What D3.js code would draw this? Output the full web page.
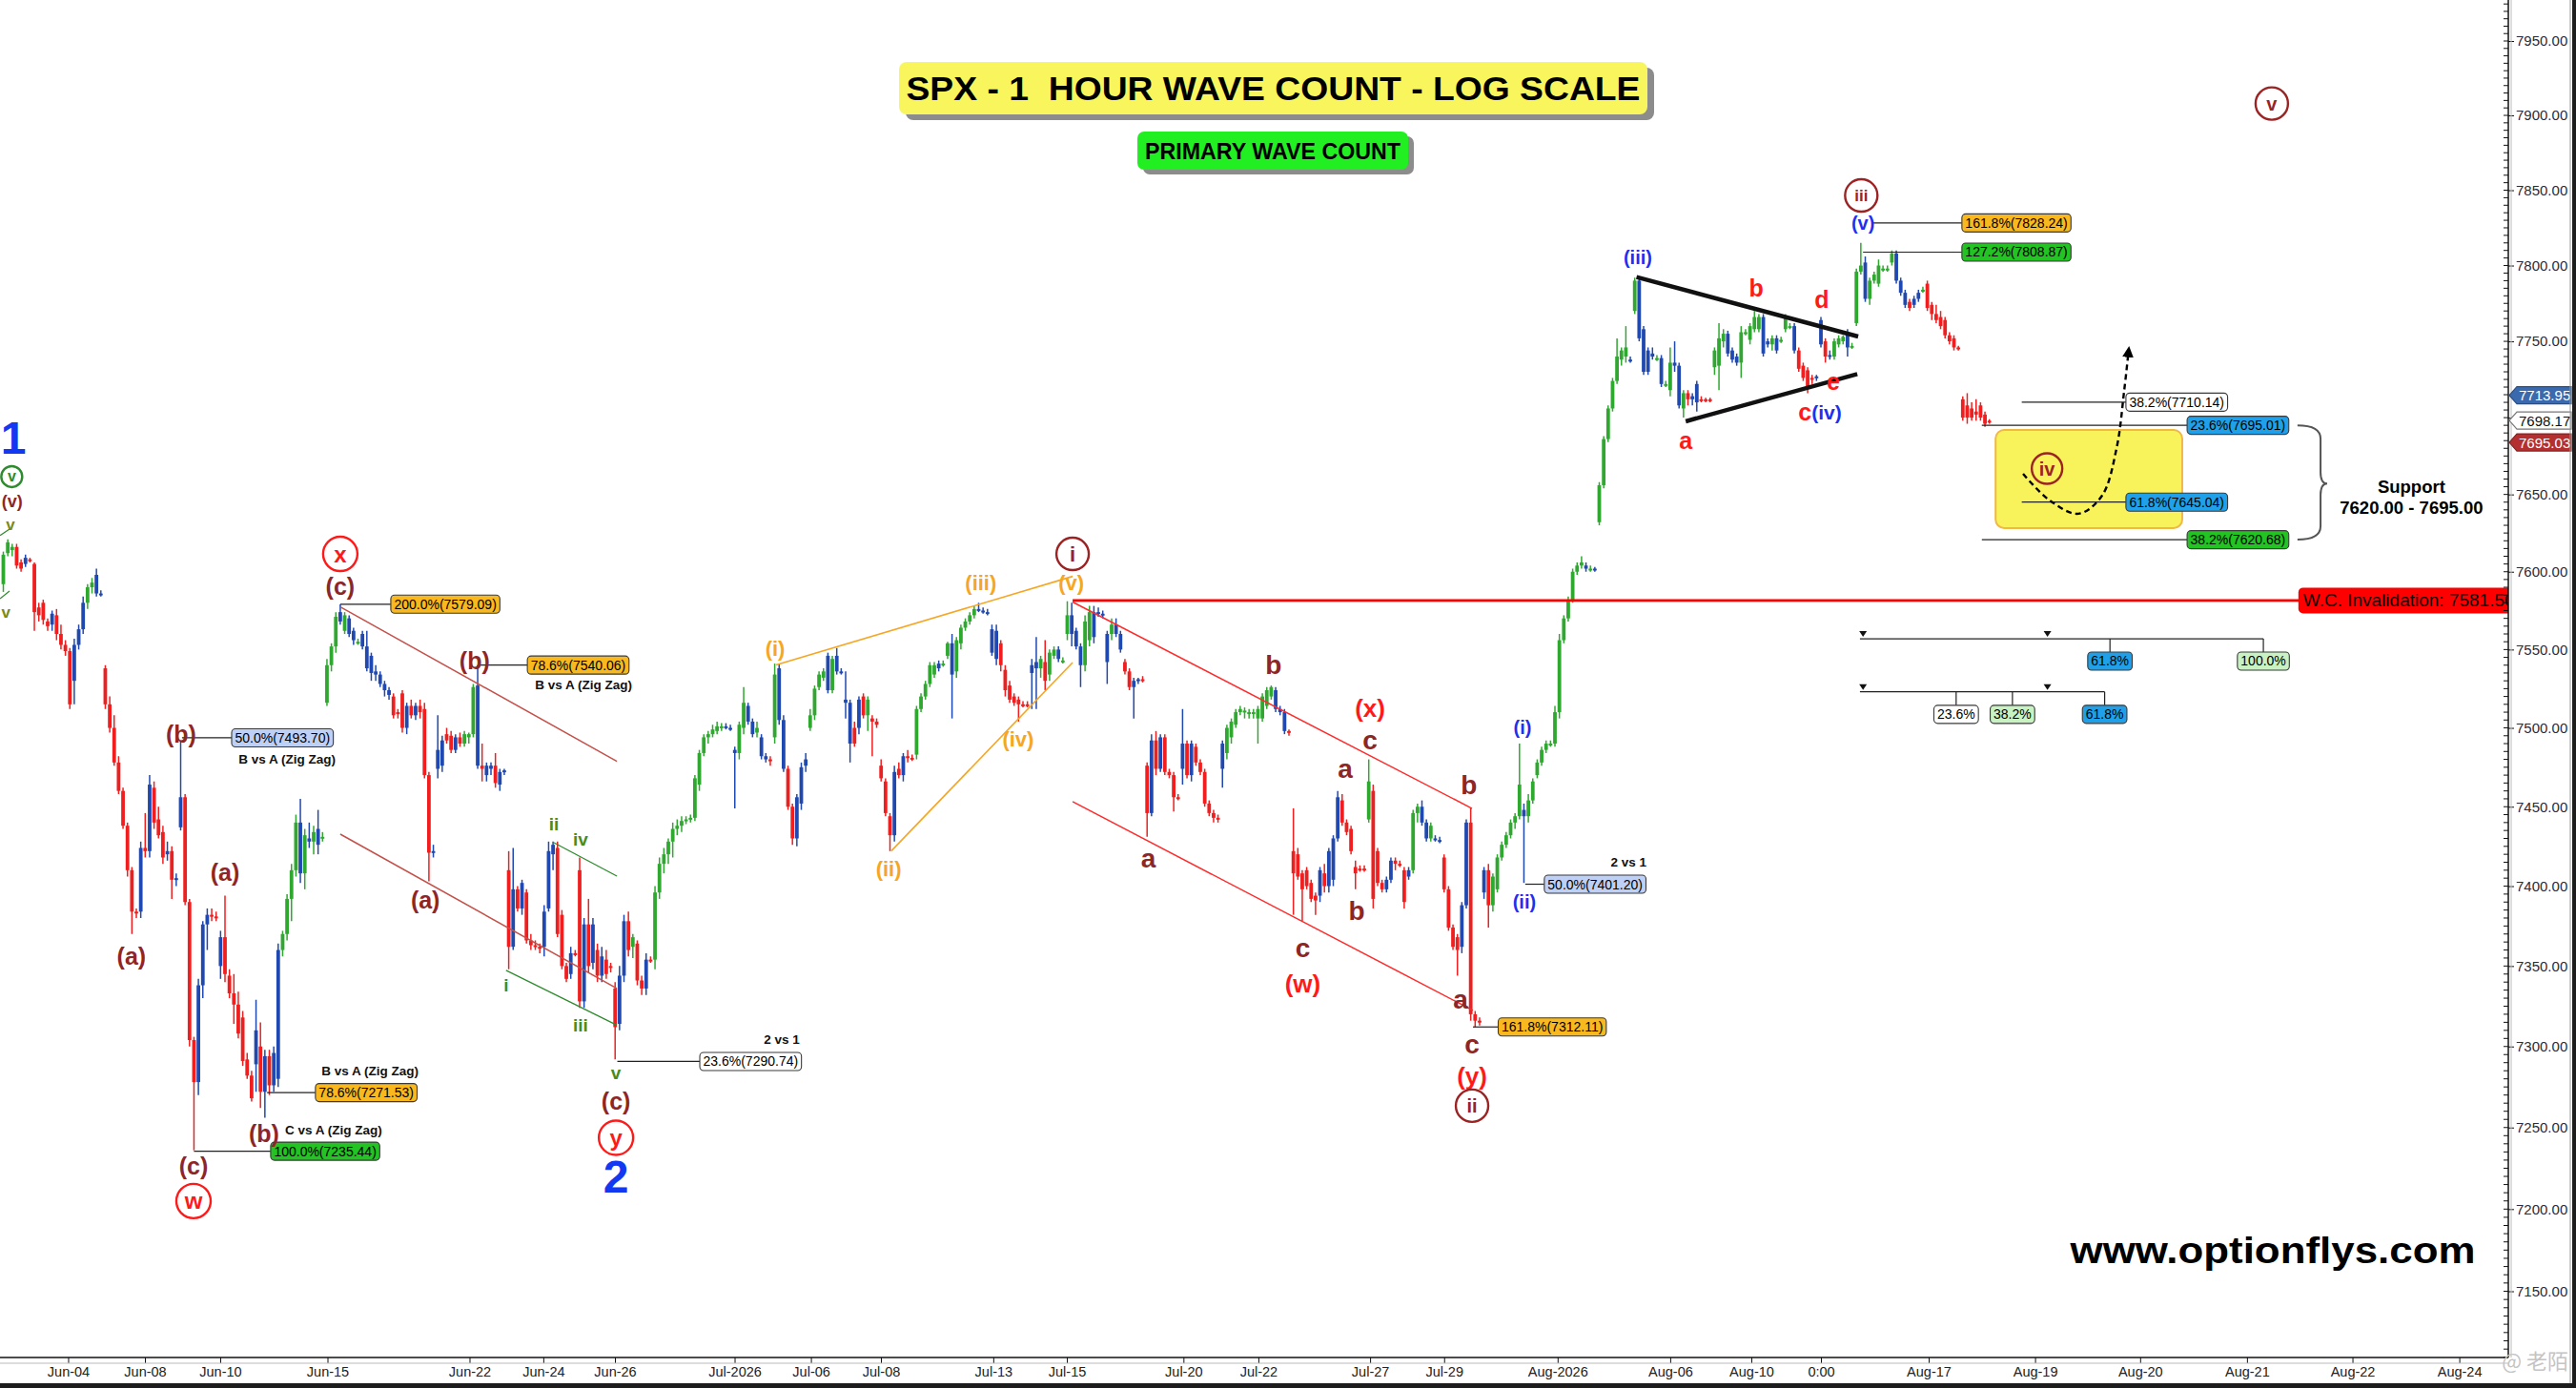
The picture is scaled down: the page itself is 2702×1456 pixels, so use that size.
<!DOCTYPE html>
<html><head><meta charset="utf-8">
<script src="https://cdn.jsdelivr.net/npm/d3@7/dist/d3.min.js"></script>
<style>body{margin:0;background:#fff;} svg{display:block;font-family:"Liberation Sans",Arial,sans-serif;}</style>
</head><body>
<svg id="chart" width="2702" height="1456"></svg>
<script>
// ---------------- DATA ----------------
// hourly candles [open, high, low, close]
const candles = [
[7592,7613,7587,7611],[7612,7621,7610,7619],[7614,7618,7610,7616],[7616,7618,7602,7604],[7606,7608,7600,7602],
[7605,7611,7603,7609],[7608,7609,7606,7607],[7605,7606,7562,7574],[7577,7580,7568,7572],[7580,7582,7566,7569],
[7568,7570,7562,7565],[7566,7575,7562,7573],[7572,7576,7556,7560],[7560,7566,7550,7553],[7553,7556,7546,7549],
[7549,7551,7512,7515],[7530,7557,7515,7553],[7553,7566,7550,7563],[7563,7584,7560,7580],[7580,7592,7576,7590],
[7590,7596,7586,7593],[7598,7602,7584,7586],[7586,7588,7584,7585],[7538,7540,7512,7515],[7515,7520,7497,7500],
[7500,7508,7476,7478],[7478,7482,7458,7460],[7460,7462,7436,7438],[7438,7440,7406,7410],[7410,7412,7370,7384],
[7384,7386,7380,7383],[7384,7428,7380,7424],[7424,7446,7418,7422],[7422,7470,7418,7464],[7462,7466,7436,7440],
[7442,7450,7430,7432],[7434,7438,7414,7418],[7420,7428,7416,7422],[7422,7425,7392,7404],[7404,7408,7400,7405],
[7437,7492,7435,7456],[7456,7458,7388,7390],[7390,7392,7300,7304],[7304,7306,7236,7278],[7278,7342,7270,7338],
[7338,7378,7330,7376],[7376,7386,7360,7382],[7382,7386,7378,7381],[7381,7384,7378,7380],[7350,7372,7342,7368],
[7368,7394,7340,7345],[7344,7348,7330,7333],[7333,7345,7314,7326],[7326,7334,7305,7308],[7318,7322,7288,7291],
[7292,7296,7280,7282],[7282,7285,7266,7268],[7289,7329,7272,7310],[7300,7315,7262,7272],[7272,7298,7256,7294],
[7294,7298,7270,7276],[7276,7300,7272,7296],[7280,7364,7275,7360],[7360,7372,7356,7370],[7370,7395,7366,7392],
[7392,7414,7378,7410],[7410,7445,7406,7440],[7440,7455,7402,7408],[7408,7436,7398,7432],[7430,7440,7424,7428],
[7428,7438,7420,7434],[7436,7448,7420,7426],[7430,7434,7428,7431],[7516,7544,7514,7540],[7540,7554,7536,7552],
[7552,7574,7548,7571],[7574,7579,7566,7568],[7562,7574,7560,7572],[7570,7572,7558,7560],[7562,7564,7553,7556],
[7555,7557,7553,7555],[7560,7562,7550,7552],[7552,7562,7536,7538],[7546,7548,7530,7535],[7536,7540,7530,7534],
[7534,7536,7526,7528],[7528,7530,7520,7524],[7524,7526,7518,7521],[7520,7522,7506,7508],[7510,7512,7506,7509],
[7522,7524,7497,7500],[7500,7516,7496,7514],[7514,7518,7506,7508],[7508,7516,7505,7514],[7514,7518,7506,7510],
[7512,7516,7468,7470],[7470,7472,7403,7421],[7421,7426,7418,7422],[7474,7508,7468,7486],[7476,7495,7472,7492],
[7496,7500,7490,7492],[7495,7498,7484,7486],[7486,7496,7484,7494],[7494,7497,7488,7490],[7490,7498,7488,7496],
[7494,7497,7490,7496],[7496,7528,7494,7526],[7527,7540,7474,7476],[7476,7490,7466,7474],[7470,7478,7466,7476],
[7474,7478,7470,7476],[7476,7484,7462,7465],[7464,7474,7460,7472],[7472,7474,7470,7473],[7410,7422,7348,7362],
[7362,7424,7360,7398],[7398,7400,7384,7386],[7386,7404,7382,7402],[7396,7398,7364,7366],[7366,7370,7360,7363],
[7363,7366,7360,7362],[7362,7364,7358,7361],[7362,7388,7356,7384],[7386,7428,7384,7422],[7420,7428,7410,7426],
[7424,7428,7368,7370],[7382,7385,7348,7350],[7350,7352,7340,7342],[7345,7362,7342,7358],[7358,7360,7356,7358],
[7410,7418,7324,7328],[7328,7380,7324,7376],[7376,7392,7346,7350],[7352,7380,7348,7376],[7360,7364,7340,7344],
[7344,7362,7340,7356],[7354,7360,7342,7345],[7350,7352,7346,7349],[7336,7340,7292,7312],[7314,7350,7310,7344],
[7344,7382,7340,7378],[7378,7384,7356,7360],[7362,7370,7355,7368],[7364,7366,7338,7341],[7341,7344,7332,7336],
[7336,7358,7332,7354],[7354,7356,7352,7354],[7354,7400,7348,7396],[7396,7418,7392,7414],[7414,7424,7408,7420],
[7420,7430,7414,7428],[7428,7440,7418,7436],[7436,7442,7432,7438],[7438,7444,7434,7441],[7441,7444,7439,7442],
[7442,7445,7440,7443],[7443,7470,7441,7468],[7464,7486,7460,7484],[7484,7496,7482,7494],[7494,7498,7490,7496],
[7496,7502,7494,7499],[7498,7504,7496,7501],[7500,7503,7498,7501],[7501,7503,7499,7500],[7500,7502,7498,7499],
[7486,7488,7449,7484],[7484,7504,7480,7502],[7500,7526,7496,7516],[7514,7516,7502,7504],[7504,7506,7494,7496],
[7497,7504,7494,7500],[7494,7496,7480,7482],[7482,7484,7478,7480],[7480,7482,7476,7479],[7494,7541,7490,7534],
[7538,7541,7502,7505],[7505,7508,7472,7474],[7474,7476,7448,7450],[7450,7452,7426,7430],[7430,7458,7425,7456],
[7452,7478,7448,7475],[7476,7484,7472,7480],[7500,7512,7498,7508],[7508,7527,7505,7525],[7526,7536,7524,7534],
[7532,7538,7530,7536],[7546,7548,7522,7524],[7524,7546,7522,7544],[7546,7551,7534,7536],[7536,7538,7534,7535],
[7518,7536,7506,7516],[7516,7518,7478,7490],[7500,7504,7488,7490],[7500,7520,7496,7518],[7520,7522,7506,7508],
[7508,7520,7498,7518],[7506,7508,7482,7504],[7504,7506,7500,7502],[7476,7480,7466,7468],[7466,7468,7444,7446],
[7444,7446,7422,7432],[7432,7476,7428,7472],[7474,7478,7468,7470],[7470,7484,7466,7482],[7482,7486,7478,7482],
[7481,7483,7479,7481],[7483,7514,7480,7512],[7512,7522,7510,7520],[7520,7530,7518,7528],[7528,7542,7526,7540],
[7534,7542,7532,7540],[7541,7543,7536,7538],[7541,7543,7539,7541],[7546,7555,7544,7554],[7554,7560,7506,7534],
[7536,7558,7532,7556],[7554,7566,7550,7564],[7564,7570,7562,7568],[7568,7574,7566,7572],[7572,7578,7570,7576],
[7576,7580,7574,7575],[7575,7577,7573,7574],[7574,7576,7572,7573],[7563,7566,7546,7548],[7562,7566,7540,7544],
[7554,7556,7536,7540],[7537,7540,7520,7524],[7527,7530,7516,7518],[7520,7522,7514,7516],[7518,7520,7504,7515],
[7515,7517,7513,7515],[7515,7517,7513,7514],[7535,7544,7512,7540],[7538,7558,7512,7542],[7538,7546,7532,7544],
[7542,7556,7524,7530],[7534,7550,7530,7548],[7546,7552,7544,7550],[7550,7552,7542,7544],[7543,7545,7541,7543],
[7560,7581,7556,7572],[7572,7580,7552,7560],[7562,7564,7550,7552],[7552,7554,7526,7540],[7540,7572,7536,7568],
[7556,7578,7552,7574],[7574,7578,7554,7558],[7574,7577,7571,7573],[7573,7575,7570,7572],[7560,7562,7528,7542],
[7560,7570,7556,7566],[7566,7570,7558,7560],[7560,7562,7548,7550],[7542,7544,7534,7536],[7536,7538,7524,7526],
[7526,7532,7506,7530],[7530,7532,7528,7531],[7531,7533,7529,7530],[7476,7478,7431,7446],[7446,7496,7444,7492],
[7492,7498,7470,7474],[7474,7496,7472,7494],[7494,7496,7470,7472],[7472,7474,7468,7470],[7470,7472,7447,7456],
[7456,7458,7454,7456],[7474,7512,7464,7490],[7490,7492,7468,7470],[7470,7492,7466,7490],[7488,7490,7476,7478],
[7478,7480,7470,7472],[7472,7474,7450,7452],[7452,7454,7444,7446],[7446,7448,7440,7443],[7443,7445,7440,7442],
[7474,7492,7462,7490],[7484,7502,7480,7500],[7494,7506,7490,7504],[7502,7512,7500,7510],[7510,7514,7508,7512],
[7510,7513,7506,7511],[7509,7512,7506,7510],[7509,7512,7506,7510],[7506,7514,7490,7512],[7506,7522,7504,7520],
[7514,7526,7512,7524],[7520,7527,7518,7526],[7524,7526,7510,7512],[7512,7514,7508,7510],[7510,7512,7496,7498],
[7498,7499,7495,7497],[7422,7449,7382,7408],[7420,7424,7404,7406],[7408,7410,7378,7398],[7410,7412,7398,7400],
[7402,7404,7390,7392],[7394,7396,7382,7391],[7394,7412,7390,7410],[7408,7414,7396,7400],[7400,7424,7396,7422],
[7404,7432,7400,7430],[7430,7460,7428,7456],[7454,7458,7438,7440],[7440,7442,7432,7434],[7436,7438,7420,7422],
[7412,7416,7398,7408],[7411,7413,7409,7411],[7411,7413,7409,7410],[7442,7480,7440,7466],[7460,7464,7386,7392],
[7422,7424,7400,7402],[7402,7404,7396,7398],[7398,7406,7396,7404],[7404,7418,7402,7416],[7416,7418,7410,7414],
[7414,7416,7412,7413],[7410,7412,7386,7390],[7406,7412,7404,7410],[7410,7448,7408,7446],[7446,7452,7440,7450],
[7450,7454,7438,7440],[7440,7442,7428,7430],[7430,7440,7428,7438],[7430,7432,7428,7429],[7429,7431,7427,7428],
[7418,7420,7396,7398],[7398,7400,7372,7374],[7374,7376,7360,7362],[7368,7370,7344,7360],[7362,7390,7358,7388],
[7388,7442,7386,7440],[7440,7449,7316,7320],[7320,7322,7312,7316],[7316,7318,7313,7316],[7396,7412,7392,7410],
[7410,7414,7374,7388],[7388,7408,7384,7406],[7398,7420,7396,7418],[7418,7428,7416,7426],[7426,7434,7424,7432],
[7432,7442,7430,7440],[7440,7446,7436,7444],[7444,7490,7442,7464],[7448,7452,7402,7444],[7444,7458,7440,7454],
[7454,7468,7452,7466],[7470,7480,7468,7478],[7478,7488,7476,7486],[7486,7492,7484,7490],[7490,7492,7488,7490],
[7490,7514,7488,7510],[7510,7560,7506,7556],[7556,7572,7554,7570],[7570,7584,7568,7582],[7582,7602,7580,7600],
[7600,7606,7598,7604],[7604,7610,7602,7606],[7604,7606,7600,7602],[7602,7604,7600,7602],[7602,7603,7600,7601],
[7632,7658,7630,7656],[7656,7688,7654,7686],[7686,7708,7684,7706],[7706,7726,7704,7724],[7724,7752,7722,7740],
[7738,7746,7734,7744],[7740,7760,7736,7746],[7738,7740,7736,7737],[7770,7792,7768,7790],[7790,7792,7750,7752],
[7758,7760,7728,7730],[7744,7746,7728,7730],[7742,7746,7738,7740],[7739,7741,7737,7739],[7739,7741,7720,7722],
[7722,7724,7720,7722],[7718,7746,7714,7736],[7736,7750,7730,7734],[7734,7736,7706,7708],[7706,7718,7700,7716],
[7716,7718,7708,7712],[7712,7716,7708,7714],[7710,7724,7704,7722],[7712,7714,7710,7712],[7712,7713,7710,7712],
[7712,7713,7710,7711],[7733,7746,7728,7744],[7734,7762,7718,7752],[7750,7758,7746,7755],[7755,7757,7740,7742],
[7744,7746,7736,7738],[7740,7742,7734,7736],[7736,7760,7726,7756],[7756,7758,7754,7756],[7751,7762,7748,7760],
[7758,7770,7756,7766],[7758,7768,7756,7766],[7766,7768,7740,7742],[7750,7752,7746,7748],[7748,7754,7744,7752],
[7752,7754,7742,7744],[7751,7753,7749,7751],[7758,7768,7756,7766],[7760,7762,7758,7760],[7760,7762,7742,7744],
[7744,7746,7730,7732],[7734,7736,7724,7726],[7731,7733,7716,7720],[7726,7728,7722,7725],[7726,7728,7724,7727],
[7748,7766,7746,7764],[7750,7752,7736,7740],[7740,7744,7738,7741],[7740,7752,7738,7750],[7748,7754,7746,7752],
[7750,7754,7748,7753],[7755,7758,7740,7746],[7747,7749,7745,7747],[7762,7798,7760,7796],[7796,7815,7794,7800],
[7802,7806,7776,7778],[7778,7792,7774,7790],[7790,7796,7788,7794],[7788,7804,7786,7800],[7798,7800,7796,7798],
[7798,7800,7796,7798],[7802,7810,7800,7808],[7808,7810,7788,7790],[7790,7792,7780,7782],[7782,7784,7772,7774],
[7776,7778,7770,7772],[7774,7780,7772,7778],[7778,7784,7776,7782],[7784,7786,7782,7784],[7788,7790,7770,7772],
[7774,7776,7764,7768],[7768,7774,7762,7764],[7766,7770,7758,7760],[7764,7766,7752,7754],[7754,7756,7748,7750],
[7752,7754,7744,7746],[7746,7747,7744,7745],[7712,7714,7698,7700],[7708,7716,7696,7700],[7706,7710,7698,7700],
[7704,7712,7698,7702],[7708,7710,7698,7700],[7702,7704,7694,7696],[7698,7699,7696,7698]
];
// time axis labels and their bar-slot positions
const timeLabels = ["Jun-04","Jun-08","Jun-10","Jun-15","Jun-22","Jun-24","Jun-26","Jul-2026","Jul-06","Jul-08","Jul-13","Jul-15","Jul-20","Jul-22","Jul-27","Jul-29","Aug-2026","Aug-06","Aug-10","0:00","Aug-17","Aug-19","Aug-20","Aug-21","Aug-22","Aug-24"];
const timeSlots = [14.62,31.94,48.92,73.12,105.16,121.8,137.96,164.95,182.17,197.96,223.3,239.9,266.2,283.1,308.3,325.0,350.6,376.0,394.3,410.0,434.3,458.3,482.0,506.1,529.9,554.0];
// price axis labels
const priceTicks = [7150,7200,7250,7300,7350,7400,7450,7500,7550,7600,7650,7700,7750,7800,7850,7900,7950];
const lastPrices = [7713.95, 7698.17, 7695.03];
const invalidation = 7581.50;
// fibonacci level labels: [text, lineFromSlot, boxLeftSlot, price, kind]
const fibLevels = [
 ["50.0%(7493.70)",40.3,51.5,7493.70,"lblue"],
 ["78.6%(7271.53)",59.5,70.4,7271.53,"orange"],
 ["100.0%(7235.44)",43,60.3,7235.44,"green"],
 ["200.0%(7579.09)",76,87.4,7579.09,"orange"],
 ["78.6%(7540.06)",107.5,118.2,7540.06,"orange"],
 ["23.6%(7290.74)",138.5,157.1,7290.74,"white"],
 ["161.8%(7312.11)",331.5,337.2,7312.11,"orange"],
 ["50.0%(7401.20)",343.3,347.6,7401.20,"lblue"],
 ["161.8%(7828.24)",421.5,441.8,7828.24,"orange"],
 ["127.2%(7808.87)",419.5,441.8,7808.87,"green"],
 ["38.2%(7710.14)",455.3,478.8,7710.14,"white"],
 ["23.6%(7695.01)",446.3,492.6,7695.01,"blue"],
 ["61.8%(7645.04)",455.3,478.8,7645.04,"blue"],
 ["38.2%(7620.68)",446.3,492.6,7620.68,"green"]
];
// plain wave labels: [text, slot, price, colorKey, fontSize]
const waveLabels = [
 ["1",2.3,7686.4,"bigblue",48],["(v)",2.0,7645.5,"brown",18],["v",1.6,7630.6,"olive",17],["v",0.6,7573.5,"olive",17],
 ["(a)",28.9,7356.2,"brown",25],["(b)",40.1,7496.1,"brown",25],["(a)",50,7408.7,"brown",25],["(b)",58.8,7246.3,"brown",25],
 ["(c)",42.9,7226.5,"brown",25],["(c)",76,7590.7,"brown",25],["(b)",106.3,7542.9,"brown",25],["(a)",95.2,7391.4,"brown",25],
 ["i",113.4,7337.8,"lgreen",19],["ii",124.2,7439.3,"lgreen",19],["iii",130.2,7313.2,"lgreen",19],["iv",130.2,7429.1,"lgreen",19],
 ["v",138.2,7283.9,"lgreen",19],["(c)",138.2,7266.3,"brown",25],["2",138.2,7219.5,"bigblue",48],
 ["(i)",174.1,7550.4,"orange",22],["(ii)",199.7,7410.8,"orange",22],["(iii)",220.5,7592.7,"orange",22],["(iv)",228.9,7492.8,"orange",22],["(v)",240.9,7592.7,"orange",22],
 ["a",258.3,7417.1,"brown",28],["b",286.5,7539.9,"brown",28],["(x)",308.3,7512.7,"red",26],["c",308.3,7491.9,"brown",28],
 ["a",302.7,7474.0,"brown",28],["b",305.3,7384.2,"brown",28],["c",293.1,7361.5,"brown",28],["(w)",293.1,7338.9,"red",26],
 ["b",330.6,7463.6,"brown",28],["a",328.7,7328.9,"brown",28],["c",331.3,7301.1,"brown",28],["(y)",331.3,7281.8,"red",26],
 ["(i)",342.7,7500.3,"blue",20],["(ii)",343.1,7390.2,"blue",20],["(iii)",368.7,7805.1,"blue",20],
 ["a",379.5,7685.1,"red",25],["b",395.4,7785.5,"red",25],["d",410.2,7777.9,"red",25],["e",412.8,7723.8,"red",25],
 ["(v)",419.5,7828.2,"blue",20]
];
// circled wave labels: [text, slot, price, colorKey, radius, fontSize]
const circledLabels = [
 ["v",1.9,7661.6,"cgreen",11,16],["w",42.9,7204.9,"red",18,24],["x",76,7611.5,"red",18,24],["y",138.2,7243.7,"red",18,24],
 ["i",241.2,7611.5,"dred",17,22],["ii",331.3,7263.4,"dred",17,20],["iii",419.1,7846.5,"dred",17,17],
 ["iv",461,7666.8,"dred",16,20],["v",511.7,7907.9,"dred",17,20]
];
// small text notes: [text, slot, price]
const notes = [
 ["B vs A (Zig Zag)",64.0,7480.3],["B vs A (Zig Zag)",82.7,7284.8],["C vs A (Zig Zag)",74.5,7248.3],
 ["B vs A (Zig Zag)",130.9,7527.3],["2 vs 1",175.6,7304.0],["2 vs 1",366.6,7414.9]
];
// trend / channel lines: [[slot,price],[slot,price], colorKey, width]
const trendLines = [
 [[-0.75,7623.4],[1.4,7627.6],"cgreen",1.2],[[-0.75,7582.7],[1.4,7587.6],"cgreen",1.2],
 [[76,7577.4],[138.4,7478.8],"chan",1.5],[[76,7432.7],[138.4,7336.0],"chan",1.5],
 [[124,7427.6],[138.4,7406.3],"cgreen",1.3],[[113.4,7347.3],[138.4,7313.2],"cgreen",1.3],
 [[174.3,7540.1],[241.2,7597.0],"orange",1.6],[[200.3,7422.1],[241.2,7541.7],"orange",1.6],
 [[241.2,7580.5],[331.3,7448.9],"redline",1.5],[[241.2,7453.2],[331.5,7322.4],"redline",1.5],
 [[368.4,7792.4],[418.4,7753.2],"black",4.5],[[379.5,7697.6],[418.2,7728.5],"black",4.5]
];
// projected path for wave (iv)
const projection = [[455.6,7663.4],[461.6,7646.1],[468.1,7637.5],[473.4,7649.2],[476.7,7680.2],[478.4,7717.5],[479.3,7741.0]];
const supportZone = {left:449.4, right:491.5, top:7692.0, bottom:7628.2};
// time-projection rulers: [lineSlotFrom, lineSlotTo, price, markerSlots, labels[[text,slot,kind]], labelPrice]
const rulers = [
 [418.8,509.8,7556.9,[419.5,461.1],[["61.8%",475.2,"blue"],["100.0%",509.8,"lgreenbox"]],7542.6],
 [418.8,474.0,7523.0,[419.5,461.1],[["23.6%",440.5,"white"],["38.2%",453.2,"lgreenbox"],["61.8%",474.0,"blue"]],7508.6]
];

// ---------------- SETUP ----------------
const W = 2702, H = 1456, AXX = 2631, AXY = 1424;
const svg = d3.select("#chart");
const x = d3.scaleLinear().domain([0, 448]).range([3.5, 3.5 + 448 * 4.65]);
const y = d3.scaleLog().domain([7150, 7950]).range([1354.5, 43]);
const C = {
  green:"#33a834", blue:"#1f2ff0", red:"#ff1a1a", brown:"#8e2626", dred:"#9b2323", orange:"#f6a623",
  bigblue:"#1238f2", lgreen:"#4a8c1c", olive:"#7d8a12", cgreen:"#2e8b2e", chan:"#c4504a", redline:"#ff2a2a", black:"#111"
};
const boxFill = {lblue:"#bfd0f6", orange:"#f9b81e", green:"#22c322", white:"#ffffff", blue:"#1fa0e8", lgreenbox:"#c8f2c2"};
const candleCol = {up:"#2fa82f", neutral:"#1f48b0", down:"#f01e1e"};

svg.append("rect").attr("width", W).attr("height", H).attr("fill", "#fff");
svg.append("defs").append("clipPath").attr("id", "plotclip")
  .append("rect").attr("x", 0).attr("y", 0).attr("width", AXX).attr("height", AXY);
svg.select("defs").append("marker").attr("id", "arrow").attr("viewBox", "0 0 10 10")
  .attr("refX", 2).attr("refY", 5).attr("markerWidth", 5).attr("markerHeight", 5)
  .attr("orient", "auto").attr("markerUnits", "strokeWidth")
  .append("path").attr("d", "M0,0 L10,5 L0,10 Z").attr("fill", "#000");

const plot = svg.append("g").attr("clip-path", "url(#plotclip)");

// ---------------- CANDLES ----------------
let e5 = candles[0][3], e13 = candles[0][3];
const colors = candles.map(([o, h, l, c]) => {
  e5 += (c - e5) * (2 / 6); e13 += (c - e13) * (2 / 14);
  const t = e5 - e13;
  if (c > o) return t >= 0 ? candleCol.up : candleCol.neutral;
  if (c < o) return t < 0 ? candleCol.down : candleCol.neutral;
  return t >= 0 ? candleCol.up : candleCol.down;
});
const cg = plot.append("g");
cg.selectAll("line").data(candles).join("line")
  .attr("x1", (d, i) => x(i)).attr("x2", (d, i) => x(i))
  .attr("y1", d => y(Math.max(d[1], d[0], d[3]))).attr("y2", d => y(Math.min(d[2], d[0], d[3])))
  .attr("stroke", (d, i) => colors[i]).attr("stroke-width", 1.5);
cg.selectAll("rect").data(candles).join("rect")
  .attr("x", (d, i) => x(i) - 1.9).attr("width", 3.8)
  .attr("y", d => y(Math.max(d[0], d[3])))
  .attr("height", d => Math.max(2, Math.abs(y(d[0]) - y(d[3]))))
  .attr("fill", (d, i) => colors[i]);

// ---------------- ANNOTATIONS ----------------
const ann = plot.append("g");
// support zone box
ann.append("rect").attr("x", x(supportZone.left)).attr("y", y(supportZone.top))
  .attr("width", x(supportZone.right) - x(supportZone.left)).attr("height", y(supportZone.bottom) - y(supportZone.top))
  .attr("rx", 9).attr("fill", "#f8f35b").attr("stroke", "#f2b846").attr("stroke-width", 2);

// trend lines
trendLines.forEach(([a, b, col, w]) => {
  ann.append("line").attr("x1", x(a[0])).attr("y1", y(a[1])).attr("x2", x(b[0])).attr("y2", y(b[1]))
    .attr("stroke", C[col]).attr("stroke-width", w);
});
// invalidation line
ann.append("line").attr("x1", x(241.2)).attr("x2", AXX).attr("y1", y(invalidation)).attr("y2", y(invalidation))
  .attr("stroke", "#ff0000").attr("stroke-width", 2.6);

// fib boxes
function fibBox(g, text, cx, cy, kind, anchorLeft) {
  const t = g.append("text").attr("font-size", 14).attr("fill", "#000").text(text);
  const w = t.node().getComputedTextLength() + 7;
  const left = anchorLeft ? cx : cx - w / 2;
  g.insert("rect", () => t.node()).attr("x", left).attr("y", cy - 9.5).attr("width", w).attr("height", 19)
    .attr("rx", 4).attr("fill", boxFill[kind]).attr("stroke", "#3a3a3a").attr("stroke-width", 1.1);
  t.attr("x", left + w / 2).attr("y", cy).attr("text-anchor", "middle").attr("dominant-baseline", "central");
}
fibLevels.forEach(([text, from, left, price, kind]) => {
  ann.append("line").attr("x1", x(from)).attr("x2", x(left)).attr("y1", y(price)).attr("y2", y(price))
    .attr("stroke", "#222").attr("stroke-width", 1.2);
  fibBox(ann, text, x(left), y(price), kind, true);
});

// time rulers
rulers.forEach(([from, to, price, marks, labels, lp]) => {
  const yy = y(price);
  ann.append("line").attr("x1", x(from)).attr("x2", x(to)).attr("y1", yy).attr("y2", yy).attr("stroke", "#222").attr("stroke-width", 1.3);
  marks.forEach(m => ann.append("path").attr("d", `M${x(m) - 4},${yy - 8} L${x(m) + 4},${yy - 8} L${x(m)},${yy - 2} Z`).attr("fill", "#111"));
  labels.forEach(([text, s, kind]) => {
    ann.append("line").attr("x1", x(s)).attr("x2", x(s)).attr("y1", yy).attr("y2", y(lp) - 9).attr("stroke", "#222").attr("stroke-width", 1.2);
    fibBox(ann, text, x(s), y(lp), kind, false);
  });
});

// projection path
ann.append("path").attr("d", d3.line().x(d => x(d[0])).y(d => y(d[1])).curve(d3.curveCatmullRom)(projection))
  .attr("fill", "none").attr("stroke", "#000").attr("stroke-width", 2.4).attr("stroke-dasharray", "6,4")
  .attr("marker-end", "url(#arrow)");

// wave labels
waveLabels.forEach(([t, s, p, col, fs]) => {
  ann.append("text").attr("x", x(s)).attr("y", y(p)).attr("text-anchor", "middle").attr("dominant-baseline", "central")
    .attr("font-weight", "bold").attr("font-size", fs).attr("fill", C[col]).text(t);
});
// c(iv)
const civ = ann.append("text").attr("x", x(409.8)).attr("y", y(7703.5)).attr("text-anchor", "middle")
  .attr("dominant-baseline", "central").attr("font-weight", "bold");
civ.append("tspan").attr("fill", C.red).attr("font-size", 25).text("c");
civ.append("tspan").attr("fill", C.blue).attr("font-size", 21).text("(iv)");

circledLabels.forEach(([t, s, p, col, r, fs]) => {
  ann.append("circle").attr("cx", x(s)).attr("cy", y(p)).attr("r", r).attr("fill", "none")
    .attr("stroke", C[col]).attr("stroke-width", 2.4);
  ann.append("text").attr("x", x(s)).attr("y", y(p)).attr("text-anchor", "middle").attr("dominant-baseline", "central")
    .attr("font-weight", "bold").attr("font-size", fs).attr("fill", C[col]).text(t);
});

notes.forEach(([t, s, p]) => {
  ann.append("text").attr("x", x(s)).attr("y", y(p)).attr("text-anchor", "middle").attr("dominant-baseline", "central")
    .attr("font-weight", "bold").attr("font-size", 13.5).attr("fill", "#111").text(t);
});

// brace and support text
{
  const x0 = x(517.5), xm = x(522.7), tip = x(524.2);
  const yt = y(7695.0), yb = y(7620.7), ym = y(7657.0);
  ann.append("path").attr("d",
    `M${x0},${yt} Q${xm},${yt} ${xm},${yt + 14} L${xm},${ym - 12} Q${xm},${ym} ${tip},${ym} Q${xm},${ym} ${xm},${ym + 12} L${xm},${yb - 14} Q${xm},${yb} ${x0},${yb}`)
    .attr("fill", "none").attr("stroke", "#555").attr("stroke-width", 2);
  ann.append("text").attr("x", x(543.2)).attr("y", y(7655)).attr("text-anchor", "middle").attr("dominant-baseline", "central")
    .attr("font-weight", "bold").attr("font-size", 18.5).attr("fill", "#000").text("Support");
  ann.append("text").attr("x", x(543.2)).attr("y", y(7641.3)).attr("text-anchor", "middle").attr("dominant-baseline", "central")
    .attr("font-weight", "bold").attr("font-size", 18.5).attr("fill", "#000").text("7620.00 - 7695.00");
}

// invalidation label
ann.append("rect").attr("x", x(517.7)).attr("y", y(invalidation) - 13.5).attr("width", AXX - x(517.7) + 10).attr("height", 27)
  .attr("rx", 5).attr("fill", "#ff0000");
ann.append("text").attr("x", x(517.7) + 5).attr("y", y(invalidation)).attr("dominant-baseline", "central")
  .attr("font-size", 19).attr("fill", "#1a0000").text("W.C. Invalidation: " + invalidation.toFixed(2));

// ---------------- TITLE / FOOTER ----------------
svg.append("rect").attr("x", 950).attr("y", 71).attr("width", 785).attr("height", 55).attr("rx", 8).attr("fill", "#8c8c8c");
svg.append("rect").attr("x", 943).attr("y", 65).attr("width", 785).attr("height", 55).attr("rx", 8).attr("fill", "#f8f65c");
svg.append("text").attr("x", 1335.5).attr("y", 105).attr("text-anchor", "middle").attr("font-weight", "bold")
  .attr("font-size", 35).attr("fill", "#000").style("white-space", "pre")
  .attr("textLength", 770).attr("lengthAdjust", "spacingAndGlyphs").text("SPX - 1  HOUR WAVE COUNT - LOG SCALE");
svg.append("rect").attr("x", 1199).attr("y", 143).attr("width", 284).attr("height", 40).attr("rx", 7).attr("fill", "#8c8c8c");
svg.append("rect").attr("x", 1193).attr("y", 138).attr("width", 284).attr("height", 40).attr("rx", 7).attr("fill", "#22ef22");
svg.append("text").attr("x", 1335).attr("y", 167).attr("text-anchor", "middle").attr("font-weight", "bold")
  .attr("font-size", 24).attr("fill", "#000").attr("textLength", 268).attr("lengthAdjust", "spacingAndGlyphs").text("PRIMARY WAVE COUNT");
svg.append("text").attr("x", 2384).attr("y", 1325).attr("text-anchor", "middle").attr("font-weight", "bold")
  .attr("font-size", 38).attr("fill", "#000").attr("textLength", 425).attr("lengthAdjust", "spacingAndGlyphs").text("www.optionflys.com");

// ---------------- AXES ----------------
// right price axis
const ra = svg.append("g").attr("transform", `translate(${AXX},0)`)
  .call(d3.axisRight(y).tickValues(priceTicks).tickSize(6).tickFormat(d3.format(".2f")));
ra.select(".domain").remove();
ra.selectAll("text").attr("font-size", 15).attr("fill", "#2b2b3b").attr("x", 8).attr("font-family", "Liberation Sans, Arial, sans-serif");
ra.selectAll("line").attr("stroke", "#111");
const minorTicks = [];
for (let v = 7110; v <= 7975; v += 5) minorTicks.push(v);
svg.append("g").selectAll("line").data(minorTicks).join("line")
  .attr("x1", AXX - 5).attr("x2", AXX).attr("y1", d => y(d)).attr("y2", d => y(d)).attr("stroke", "#111").attr("stroke-width", 1);
svg.append("line").attr("x1", AXX).attr("x2", AXX).attr("y1", 0).attr("y2", AXY).attr("stroke", "#111").attr("stroke-width", 1.5);
svg.append("line").attr("x1", AXX + 3).attr("x2", AXX + 3).attr("y1", 0).attr("y2", AXY).attr("stroke", "#bbb").attr("stroke-width", 1);

// last price flags
function flag(price, dy, fill, stroke, tcol) {
  const yy = y(price) + dy;
  svg.append("path").attr("d", `M${AXX + 1},${yy} L${AXX + 9},${yy - 9} L${AXX + 66},${yy - 9} L${AXX + 66},${yy + 9} L${AXX + 9},${yy + 9} Z`)
    .attr("fill", fill).attr("stroke", stroke).attr("stroke-width", 1.2);
  svg.append("text").attr("x", AXX + 11).attr("y", yy).attr("dominant-baseline", "central").attr("font-size", 15)
    .attr("fill", tcol).text(price.toFixed(2));
}
flag(lastPrices[2], 18, "#b43030", "#8a2020", "#fff");
flag(lastPrices[0], -1, "#3a6aad", "#2a4f88", "#fff");
flag(lastPrices[1], 0, "#ffffff", "#777", "#111");

// bottom time axis
const ba = svg.append("g").attr("transform", `translate(0,${AXY})`)
  .call(d3.axisBottom(x).tickValues(timeSlots).tickSize(6).tickFormat((d, i) => timeLabels[i]));
ba.select(".domain").remove();
ba.selectAll("line").attr("stroke", "#111");
ba.selectAll("text").attr("font-size", 14.5).attr("fill", "#222").attr("y", 10).attr("font-family", "Liberation Sans, Arial, sans-serif");
svg.append("line").attr("x1", 0).attr("x2", AXX).attr("y1", AXY).attr("y2", AXY).attr("stroke", "#111").attr("stroke-width", 1.5);
svg.append("line").attr("x1", 0).attr("x2", AXX).attr("y1", AXY + 6).attr("y2", AXY + 6).attr("stroke", "#bbb").attr("stroke-width", 1);

// frame
svg.append("line").attr("x1", 2696).attr("x2", 2696).attr("y1", 0).attr("y2", H).attr("stroke", "#999").attr("stroke-width", 1);
svg.append("rect").attr("x", 2698).attr("y", 0).attr("width", 4).attr("height", H).attr("fill", "#1c1c1c");
svg.append("rect").attr("x", 0).attr("y", 1451).attr("width", W).attr("height", 5).attr("fill", "#1c1c1c");
svg.append("text").attr("x", 2694).attr("y", 1426).attr("text-anchor", "end").attr("dominant-baseline", "central")
  .attr("font-family", "Noto Sans CJK SC, sans-serif").attr("font-size", 22).attr("fill", "#c4c4c4").text("@ 老陌");
</script>
</body></html>
